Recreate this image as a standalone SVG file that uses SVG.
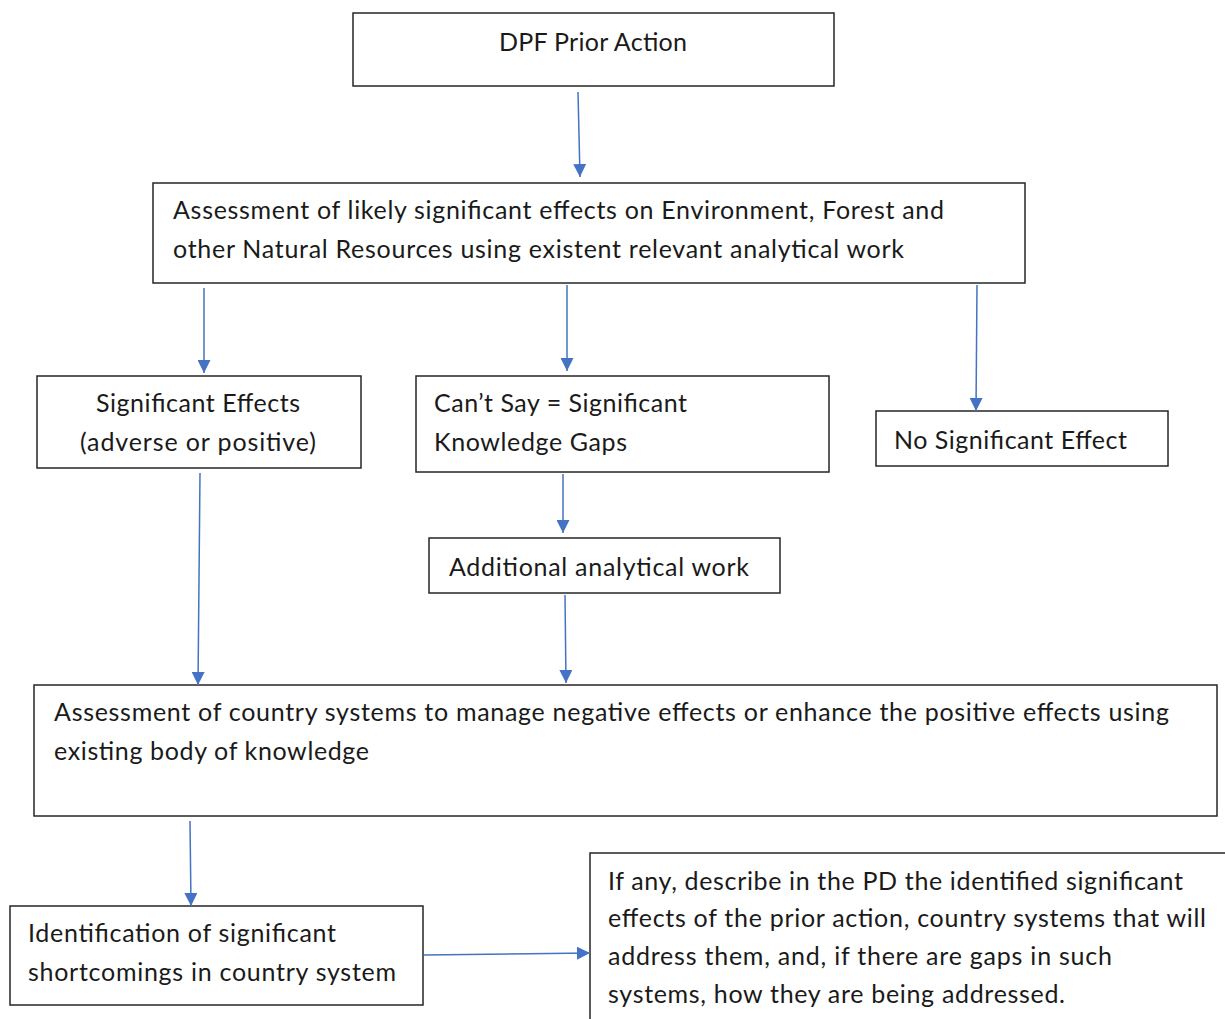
<svg xmlns="http://www.w3.org/2000/svg" width="1225" height="1019" viewBox="0 0 1225 1019">
<defs>
<style>
.box{fill:#fff;stroke:#262626;stroke-width:1.5}
.t{font-family:Lato,"Open Sans","Liberation Sans",sans-serif;font-size:25px;fill:#1a1a1a}
.c{stroke:#4472C4;stroke-width:1.5;fill:none;marker-end:url(#ah)}
</style>
<marker id="ah" viewBox="0 0 10 10" refX="10" refY="5" markerWidth="13" markerHeight="13" markerUnits="userSpaceOnUse" orient="auto">
<path d="M0,0 L10,5 L0,10 z" fill="#4472C4"/>
</marker>
</defs>
<rect width="1225" height="1019" fill="#fff"/>
<g id="n1"><rect class="box" x="353" y="13" width="481" height="73"/><text class="t" x="499" y="51" textLength="188">DPF Prior Action</text></g>
<g id="n2"><rect class="box" x="153" y="183" width="872" height="100"/><text class="t" x="173" y="219" textLength="771">Assessment of likely significant effects on Environment, Forest and</text><text class="t" x="173" y="258" textLength="731">other Natural Resources using existent relevant analytical work</text></g>
<g id="n3"><rect class="box" x="37" y="376" width="324" height="92"/><text class="t" x="96" y="412" textLength="204">Significant Effects</text><text class="t" x="80" y="451" textLength="236">(adverse or positive)</text></g>
<g id="n4"><rect class="box" x="416" y="376" width="413" height="96"/><text class="t" x="434" y="412" textLength="253">Can’t Say = Significant</text><text class="t" x="434" y="451" textLength="193">Knowledge Gaps</text></g>
<g id="n5"><rect class="box" x="876" y="411" width="292" height="55"/><text class="t" x="894" y="449" textLength="233">No Significant Effect</text></g>
<g id="n6"><rect class="box" x="429" y="538" width="351" height="55"/><text class="t" x="449" y="576" textLength="300">Additional analytical work</text></g>
<g id="n7"><rect class="box" x="34" y="685" width="1183" height="131"/><text class="t" x="54" y="721" textLength="1115">Assessment of country systems to manage negative effects or enhance the positive effects using</text><text class="t" x="54" y="760" textLength="315">existing body of knowledge</text></g>
<g id="n8"><rect class="box" x="10" y="906" width="413" height="99"/><text class="t" x="28" y="942" textLength="308">Identification of significant</text><text class="t" x="28" y="981" textLength="368">shortcomings in country system</text></g>
<g id="n9"><path class="box" d="M590,1020 V853 H1226"/><text class="t" x="608" y="890" textLength="575">If any, describe in the PD the identified significant</text><text class="t" x="608" y="927" textLength="598">effects of the prior action, country systems that will</text><text class="t" x="608" y="965" textLength="504">address them, and, if there are gaps in such</text><text class="t" x="608" y="1003" textLength="457">systems, how they are being addressed.</text></g>
<g id="connectors">
<path class="c" d="M578,92 L580,177"/>
<path class="c" d="M204,288 L204,373"/>
<path class="c" d="M567,285 L567,371"/>
<path class="c" d="M977,285 L976,411"/>
<path class="c" d="M200,473 L198,685"/>
<path class="c" d="M563,474 L563,533"/>
<path class="c" d="M565,595 L566,683"/>
<path class="c" d="M190,821 L191,906"/>
<path class="c" d="M424,955 L590,953"/>
</g>
</svg>
